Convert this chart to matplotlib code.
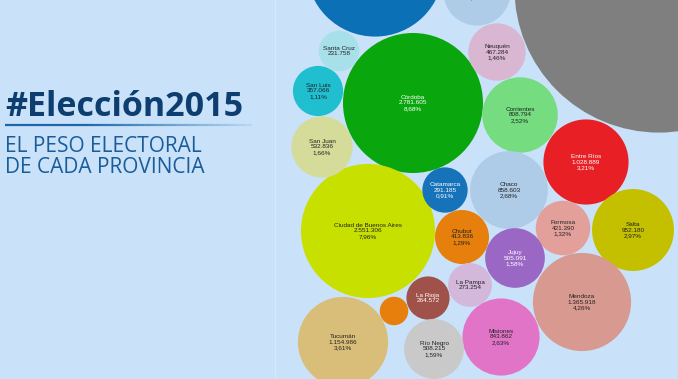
import numpy as np
import matplotlib.pyplot as plt
from matplotlib.patches import Circle
from matplotlib.collections import LineCollection

# electores por provincia (elecciones 2015)
provincias = ['Buenos Aires', 'Santa Fe', 'Santiago del Estero', 'Córdoba',
              'Ciudad de Buenos Aires', 'San Juan', 'San Luis', 'Santa Cruz',
              'Neuquén', 'Corrientes', 'Entre Ríos', 'Chaco', 'Catamarca',
              'Chubut', 'Formosa', 'Salta', 'Jujuy', 'La Pampa', 'Mendoza',
              'Misiones', 'La Rioja', 'Tierra del Fuego', 'Río Negro', 'Tucumán']
electores = [11866000, 2670000, 640000, 2781605,
             2551306, 532836, 357066, 231758,
             467284, 808794, 1028889, 858603, 291185,
             413836, 421390, 952180, 505091, 273254, 1365918,
             843862, 264572, 115000, 508215, 1154986]
porcentaje = [37.02, 8.33, 2.00, 8.68,
              7.96, 1.66, 1.11, None,
              1.46, 2.52, 3.21, 2.68, 0.91,
              1.29, 1.32, 2.97, 1.58, None, 4.26,
              2.63, None, None, 1.59, 3.61]

# ubicacion de cada burbuja (pixeles) y estilo
centros = [(659, -12), (375, -32), (477, -8), (413, 103),
           (368, 231), (322, 147), (318, 91), (339, 51),
           (497, 52), (520, 115), (586, 162), (509, 190), (445, 190),
           (462, 237), (563, 228), (633, 230), (515, 258), (470, 285), (582, 302),
           (501, 337), (428, 298), (394, 311), (434, 349), (343, 342)]
colores = ['#7f7f7f', '#0c70b6', '#aecbe8', '#0aa60e',
           '#c8e000', '#d5dc9a', '#1fbfd0', '#a8e0ea',
           '#d9b7d3', '#75dd80', '#e82025', '#aecbe8', '#1673ba',
           '#e67f0c', '#e3a09a', '#c4c000', '#9b67c4', '#d4b8dc', '#d89a90',
           '#e274c8', '#a0524a', '#e67f0c', '#c9c9c9', '#d9be7a']
texto_blanco = ['Córdoba', 'Catamarca', 'Entre Ríos', 'Jujuy', 'La Rioja', 'Santa Fe']

fondo = '#c9e2f9'


def fmt_miles(v):
    return '{:,}'.format(v).replace(',', '.')


def plot_burbujas():
    fig = plt.figure(figsize=(6.78, 3.79), dpi=100)
    fig.patch.set_facecolor(fondo)
    ax = fig.add_axes([0, 0, 1, 1])
    ax.set_facecolor(fondo)
    ax.set_xlim(0, 678)
    ax.set_ylim(379, 0)
    ax.set_aspect('equal')
    ax.axis('off')

    # escala: area proporcional a los electores (Córdoba -> radio 70px)
    k = 70 / np.sqrt(2781605)
    for nom, v, p, (cx, cy), c in zip(provincias, electores, porcentaje, centros, colores):
        r = k * np.sqrt(v)
        ax.add_patch(Circle((cx, cy), r, facecolor=c, edgecolor='none'))
        # sin etiqueta: burbujas chicas o fuera de la vista
        if r < 16 or cy < -10:
            continue
        lineas = [nom, fmt_miles(v)]
        if p is not None:
            lineas.append(('%.2f%%' % p).replace('.', ','))
        tc = 'white' if nom in texto_blanco else '#222222'
        ax.text(cx, cy, '\n'.join(lineas), ha='center', va='center',
                fontsize=4.6, color=tc, linespacing=1.15, family='Liberation Sans')

    # separador vertical
    ax.plot([275, 275], [0, 379], color='#d6eafb', linewidth=1)

    # titulo
    ax.text(5, 116, '#Elección2015', fontsize=24.5, fontweight='bold',
            color='#0e3d6f', family='Open Sans', ha='left', va='baseline')
    xs = np.linspace(5, 252, 40)
    segs = [[(xs[i], 125), (xs[i + 1], 125)] for i in range(len(xs) - 1)]
    alphas = np.clip(1.4 - np.linspace(0, 1, len(segs)) * 1.3, 0, 1)
    lc = LineCollection(segs, colors=[(0.11, 0.40, 0.66, a) for a in alphas], linewidths=1.6)
    ax.add_collection(lc)
    ax.text(5, 152, 'EL PESO ELECTORAL', fontsize=15, color='#1a5c9a',
            family='Open Sans', ha='left', va='baseline')
    ax.text(5, 173, 'DE CADA PROVINCIA', fontsize=15, color='#1a5c9a',
            family='Open Sans', ha='left', va='baseline')

    fig.savefig('out.png', dpi=100, facecolor=fondo)


if __name__ == "__main__":
    plot_burbujas()
